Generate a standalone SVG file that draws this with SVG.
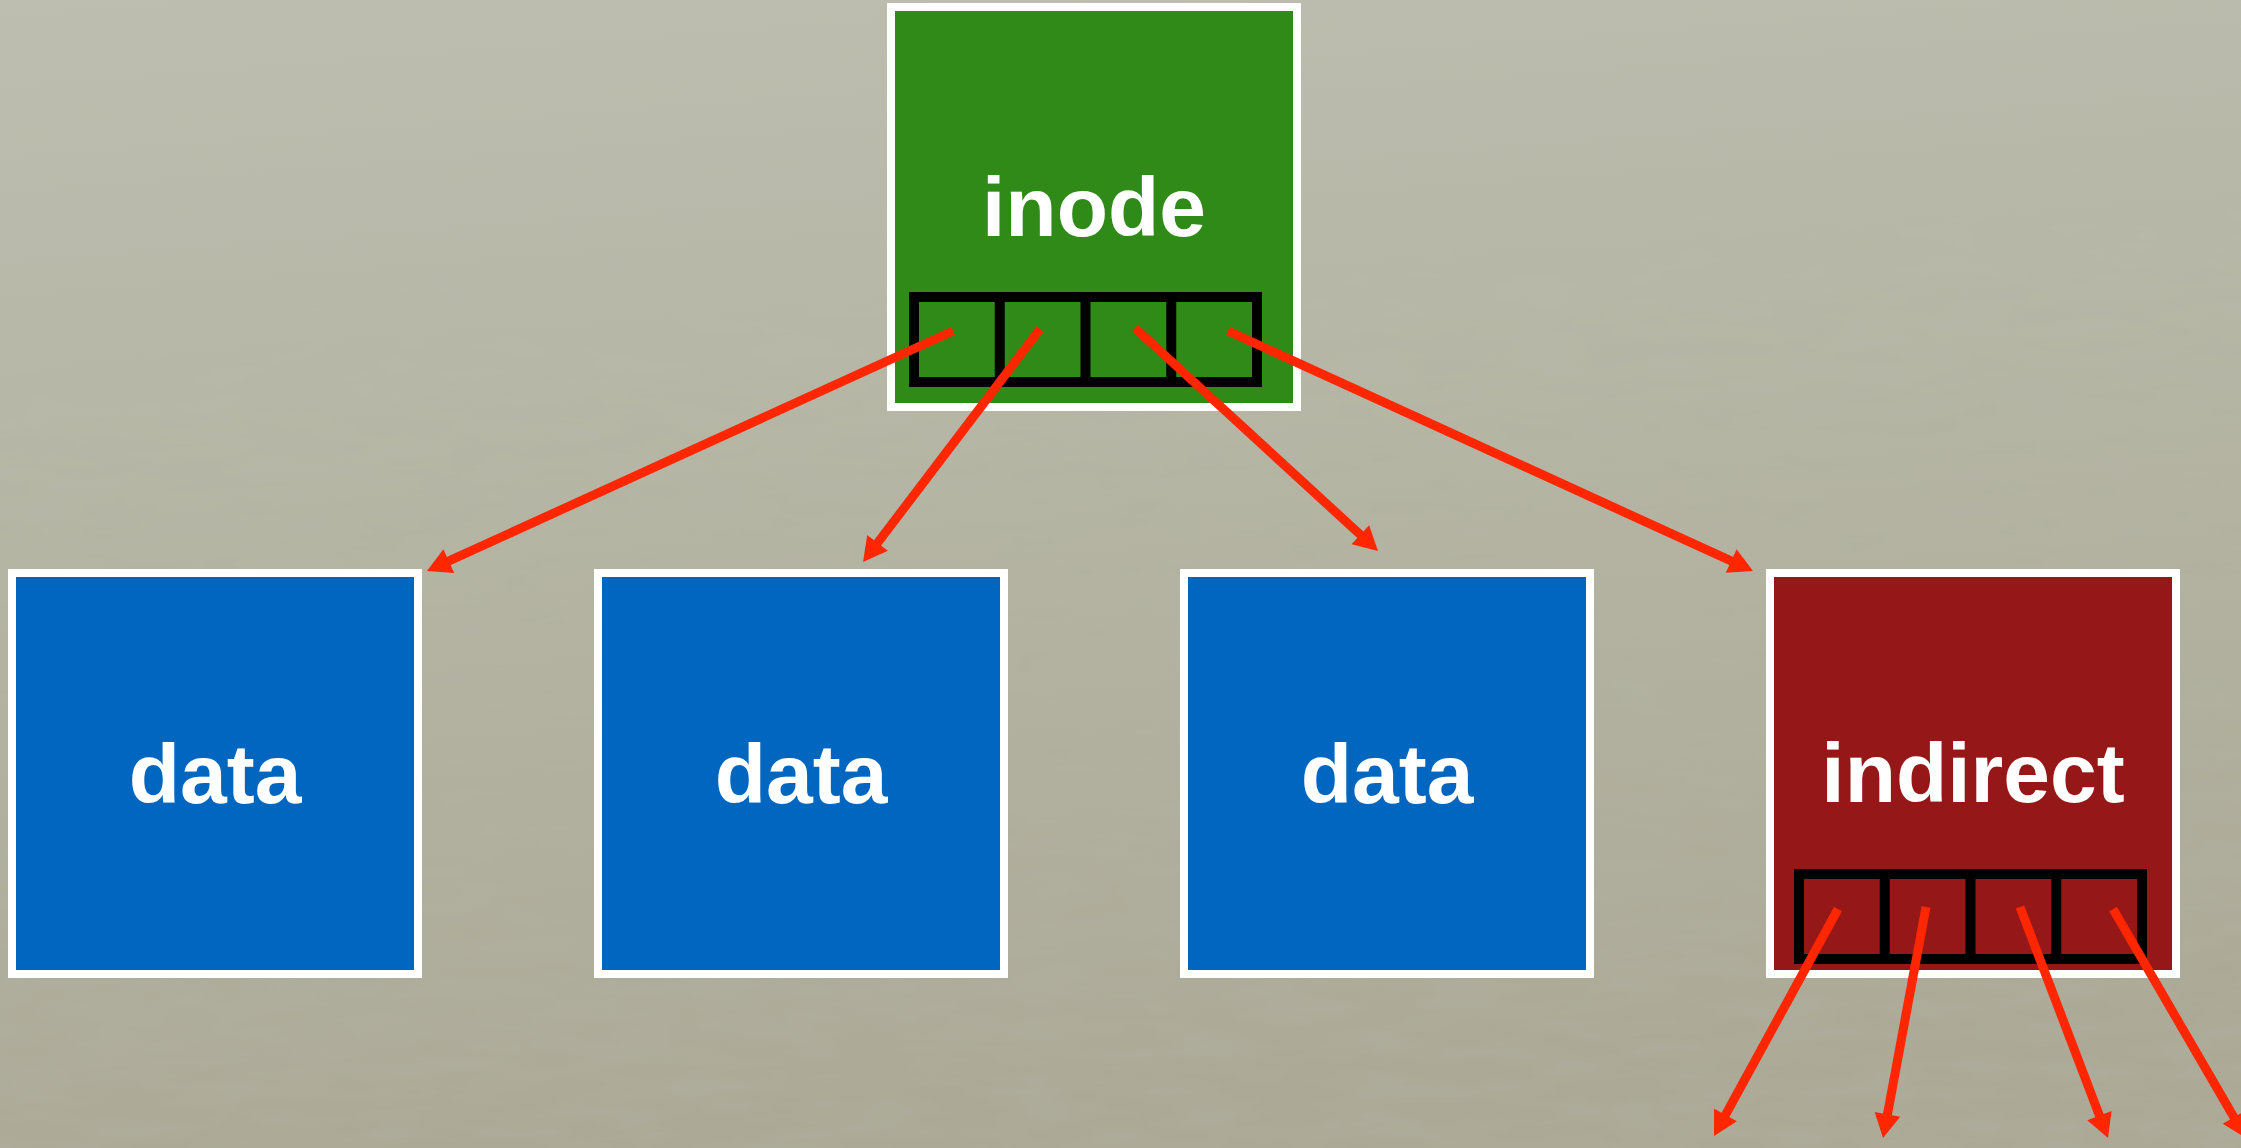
<svg xmlns="http://www.w3.org/2000/svg" width="2241" height="1148" viewBox="0 0 2241 1148">
  <defs>
    <linearGradient id="bg" x1="0" y1="0" x2="0.15" y2="1">
      <stop offset="0" stop-color="#bdbeaf"/>
      <stop offset="1" stop-color="#aba995"/>
    </linearGradient>
    <filter id="grain" x="0" y="0" width="100%" height="100%">
      <feTurbulence type="fractalNoise" baseFrequency="0.012 0.05" numOctaves="3" seed="7" result="n"/>
      <feColorMatrix in="n" type="matrix" values="0 0 0 0 0.5  0 0 0 0 0.5  0 0 0 0 0.45  0 0 0 0.18 0"/>
    </filter>
    <marker id="head" markerUnits="userSpaceOnUse" markerWidth="26" markerHeight="26" refX="10" refY="13" orient="auto" overflow="visible">
      <path d="M0,0 L24,13 L0,26 Z" fill="#ff2600"/>
    </marker>
    <style>
      .box { stroke: #ffffff; stroke-width: 8; }
      .inode { fill: #2f8a17; }
      .data { fill: #0066c0; }
      .indirect { fill: #961717; }
      .slots { fill: none; stroke: #000000; stroke-width: 10; }
      .label { font-family: "Liberation Sans", Arial, Helvetica, sans-serif; font-weight: bold; font-size: 84px; fill: #ffffff; text-anchor: middle; }
      .ptr { stroke: #ff2600; stroke-width: 9; fill: none; marker-end: url(#head); }
    </style>
  </defs>

  <!-- backdrop -->
  <rect x="0" y="0" width="2241" height="1148" fill="url(#bg)"/>
  <rect x="0" y="0" width="2241" height="1148" filter="url(#grain)"/>

  <!-- inode with four block pointers -->
  <g id="inode">
    <rect class="box inode" x="891" y="7" width="406" height="400"/>
    <text class="label" x="1094" y="236">inode</text>
    <rect class="slots" x="914" y="297" width="343" height="85"/>
    <path class="slots" d="M999.75,297 V382 M1085.5,297 V382 M1171.25,297 V382"/>
  </g>

  <g id="data1">
    <rect class="box data" x="12" y="573" width="406" height="401"/>
    <text class="label" x="215" y="803">data</text>
  </g>

  <g id="data2">
    <rect class="box data" x="598" y="573" width="406" height="401"/>
    <text class="label" x="801" y="803">data</text>
  </g>

  <g id="data3">
    <rect class="box data" x="1184" y="573" width="406" height="401"/>
    <text class="label" x="1387" y="803">data</text>
  </g>

  <!-- indirect block with its own pointer slots -->
  <g id="indirect">
    <rect class="box indirect" x="1770" y="573" width="406" height="401"/>
    <text class="label" x="1973" y="802">indirect</text>
    <rect class="slots" x="1799" y="874" width="343" height="85"/>
    <path class="slots" d="M1884.75,874 V959 M1970.5,874 V959 M2056.25,874 V959"/>
  </g>

  <!-- pointers -->
  <g id="connectors">
    <line class="ptr" x1="953" y1="331" x2="439.7" y2="565.2"/>
    <line class="ptr" x1="1040" y1="329" x2="871.5" y2="550.9"/>
    <line class="ptr" x1="1135" y1="328" x2="1367.7" y2="541.5"/>
    <line class="ptr" x1="1228" y1="331" x2="1740.3" y2="565.2"/>
    <line class="ptr" x1="1838" y1="909" x2="1720.7" y2="1123.7"/>
    <line class="ptr" x1="1926" y1="907" x2="1885.6" y2="1124.2"/>
    <line class="ptr" x1="2020" y1="907" x2="2103.0" y2="1124.9"/>
    <line class="ptr" x1="2113" y1="909" x2="2239.0" y2="1125.9"/>
  </g>
</svg>
